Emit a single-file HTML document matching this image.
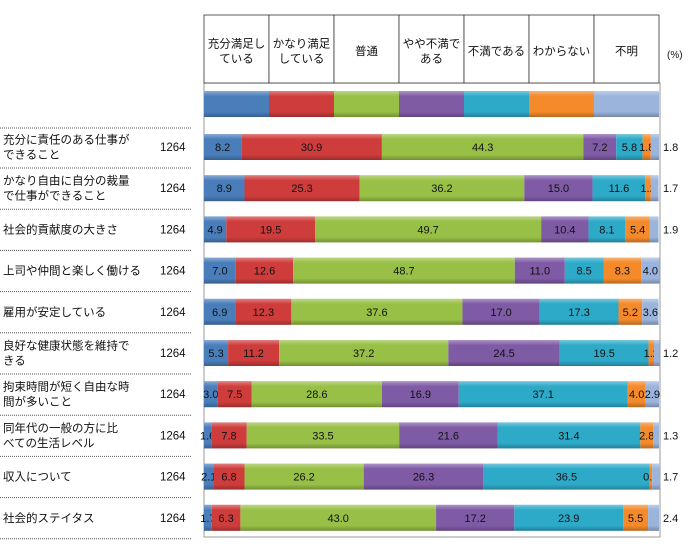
<!DOCTYPE html>
<html><head><meta charset="utf-8">
<style>
body{margin:0;background:#fff;font-family:"Liberation Sans","Noto Sans CJK JP",sans-serif;}
svg text{font-family:"Liberation Sans","Noto Sans CJK JP",sans-serif;}
</style></head>
<body>
<svg id="c" width="695" height="547" xmlns="http://www.w3.org/2000/svg">
<defs>
<linearGradient id="sh" x1="0" y1="0" x2="0" y2="1">
<stop offset="0" stop-color="#fff" stop-opacity="0.35"/>
<stop offset="0.2" stop-color="#fff" stop-opacity="0"/>
<stop offset="0.8" stop-color="#000" stop-opacity="0"/>
<stop offset="1" stop-color="#000" stop-opacity="0.25"/>
</linearGradient>
</defs>
</svg>
<script>
const categories=["充分に責任のある仕事が|できること","かなり自由に自分の裁量|で仕事ができること","社会的貢献度の大きさ","上司や仲間と楽しく働ける","雇用が安定している","良好な健康状態を維持で|きる","拘束時間が短く自由な時|間が多いこと","同年代の一般の方に比|べての生活レベル","収入について","社会的ステイタス"];
const counts=[1264,1264,1264,1264,1264,1264,1264,1264,1264,1264];
const seriesNames=["充分満足し|ている","かなり満足|している","普通","やや不満で|ある","不満である","わからない","不明"];
const s1=[8.2,8.9,4.9,7.0,6.9,5.3,3.0,1.6,2.1,1.7];
const s2=[30.9,25.3,19.5,12.6,12.3,11.2,7.5,7.8,6.8,6.3];
const s3=[44.3,36.2,49.7,48.7,37.6,37.2,28.6,33.5,26.2,43.0];
const s4=[7.2,15.0,10.4,11.0,17.0,24.5,16.9,21.6,26.3,17.2];
const s5=[5.8,11.6,8.1,8.5,17.3,19.5,37.1,31.4,36.5,23.9];
const s6=[1.8,1.2,5.4,8.3,5.2,1.2,4.0,2.8,0.6,5.5];
const s7=[1.8,1.7,1.9,4.0,3.6,1.2,2.9,1.3,1.7,2.4];
const outsideLast=[true,true,true,false,false,true,false,true,true,true];
const colors=["#4a7ebb","#cf3c3c","#98c046","#7f5ba6","#2eaac9","#f48a2a","#9bb4dc"];
const series=[s1,s2,s3,s4,s5,s6,s7];
const svg=document.getElementById('c');
const NS="http://www.w3.org/2000/svg";
const X0=204,W=455;
const x=v=>X0+v/100*W;
const rowY=i=>134+i*41.2;
function mk(t,a,p){const e=document.createElementNS(NS,t);for(const k in a)e.setAttribute(k,a[k]);(p||svg).appendChild(e);return e;}
// frame
const fr=mk('rect',{x:204,y:83,width:456,height:454,fill:'none',stroke:'#999'});


// header table
const colW=W/7;
seriesNames.forEach((n,j)=>{
 const g=mk('g',{});
 
 
 mk('rect',{x:X0+j*colW,y:15,width:colW,height:68,fill:'#fff',stroke:'#333','stroke-width':0.8},g);
 const lines=n.split('|');
 lines.forEach((l,k)=>{const t=mk('text',{x:X0+j*colW+colW/2,y:55+(k-(lines.length-1)/2)*15,'text-anchor':'middle','font-size':11.5,fill:'#111'},g);t.textContent=l;});
 const sw=mk('rect',{x:X0+j*colW,y:91,width:colW,height:26,fill:colors[j]});
 
 
 mk('rect',{x:X0+j*colW,y:91,width:colW,height:26,fill:'url(#sh)'});
});
const pc=mk('text',{x:667,y:58,'font-size':10,fill:'#111'});pc.textContent="(%)";


// rows
categories.forEach((c,i)=>{
 const cy=rowY(i)+13;
 const lab=mk('g',{});
 
 
 const lines=c.split('|');
 lines.forEach((l,k)=>{const t=mk('text',{x:3,y:cy+4+(k-(lines.length-1)/2)*15,'font-size':11.5,fill:'#111'},lab);t.textContent=l;});
 const n=mk('text',{x:160,y:cy+4,'font-size':11.5,fill:'#111'});n.textContent=counts[i];
 
 
 const sep=mk('line',{x1:0,x2:192,y1:rowY(i)+34,y2:rowY(i)+34,stroke:'#555','stroke-dasharray':'1,1'});
 
 
 let acc=0;
 series.forEach((s,j)=>{
  const v=s[i];
  const r=mk('rect',{x:x(acc),y:rowY(i),width:x(acc+v)-x(acc),height:26,fill:colors[j]});
  
  
  mk('rect',{x:x(acc),y:rowY(i),width:x(acc+v)-x(acc),height:26,fill:'url(#sh)'});
  const last=j===6&&outsideLast[i];
  const t=mk('text',{x:last?663:(x(acc)+x(acc+v))/2,y:cy+4,'text-anchor':last?'start':'middle','font-size':11,fill:'#111'});
  t.textContent=v.toFixed(1);
  
  
  acc+=v;
 });
});
mk('line',{x1:0,x2:192,y1:128,y2:128,stroke:'#555','stroke-dasharray':'1,1'});
</script>
</body></html>
